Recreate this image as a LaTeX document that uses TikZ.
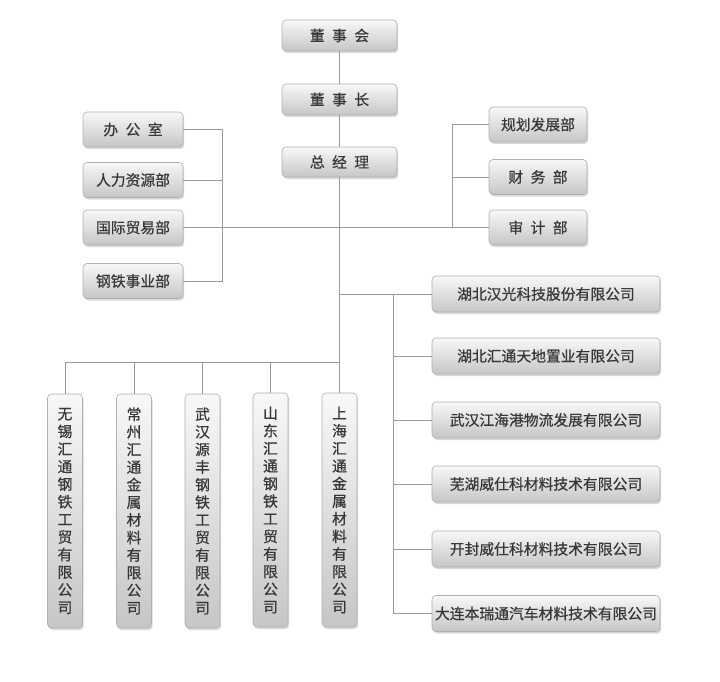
\documentclass[tikz,border=0pt]{standalone}
\usepackage{fontspec}
\newfontfamily\cjk{Noto Sans CJK SC}[FakeBold=0.6]
\usetikzlibrary{shadows}
\definecolor{txt}{HTML}{383838}
\definecolor{edge}{HTML}{9A9A9A}
\definecolor{bord}{HTML}{B0B0B0}
\definecolor{topc}{HTML}{F8F8F8}
\definecolor{botc}{HTML}{C6C6C6}
\tikzset{
  box/.style={draw=bord, line width=0.6pt, rounded corners=4pt,
    top color=topc, bottom color=botc, text=txt, inner sep=0pt,
    font=\cjk\fontsize{14.8}{17.6}\selectfont,
    drop shadow={opacity=0.3, shadow xshift=1.2pt, shadow yshift=-2pt}},
  vbox/.style={box, minimum width=35pt, minimum height=234pt, align=center},
  hbox/.style={box, minimum width=100pt, minimum height=35pt},
  cbox/.style={box, minimum width=228pt, minimum height=36pt},
  link/.style={draw=edge, line width=0.8pt}
}
\newcommand{\gapsp}{\hspace{0.5em}}
\begin{document}
\begin{tikzpicture}[x=1pt,y=-1pt]
\useasboundingbox (0,0) rectangle (720,682);
% top chain
\node[box, minimum width=115pt, minimum height=31pt] (dsh) at (339.5,35.5) {董\gapsp 事\gapsp 会};
\node[box, minimum width=115pt, minimum height=31pt] (dsz) at (339.5,99.5) {董\gapsp 事\gapsp 长};
\node[box, minimum width=115pt, minimum height=30pt] (zjl) at (339.5,162) {总\gapsp 经\gapsp 理};
% left departments
\node[hbox] (bgs) at (133,129.5) {办\gapsp 公\gapsp 室};
\node[hbox] (rlzy) at (133,180) {人力资源部};
\node[hbox] (gjmy) at (133,227.5) {国际贸易部};
\node[hbox] (gtsy) at (133,281) {钢铁事业部};
% right departments
\node[hbox, minimum width=98pt] (ghfz) at (538,124.5) {规划发展部};
\node[hbox, minimum width=98pt] (cwb) at (538,177) {财\gapsp 务\gapsp 部};
\node[hbox, minimum width=98pt] (sjb) at (538,227.5) {审\gapsp 计\gapsp 部};
% right companies
\node[cbox] (c1) at (546,294) {湖北汉光科技股份有限公司};
\node[cbox] (c2) at (546,356) {湖北汇通天地置业有限公司};
\node[cbox] (c3) at (546,420) {武汉江海港物流发展有限公司};
\node[cbox] (c4) at (546,484) {芜湖威仕科材料技术有限公司};
\node[cbox] (c5) at (546,549) {开封威仕科材料技术有限公司};
\node[cbox] (c6) at (546,613.5) {大连本瑞通汽车材料技术有限公司};
% bottom companies
\node[vbox] (b1) at (65,511) {无\\锡\\汇\\通\\钢\\铁\\工\\贸\\有\\限\\公\\司};
\node[vbox] (b2) at (134,511) {常\\州\\汇\\通\\金\\属\\材\\料\\有\\限\\公\\司};
\node[vbox] (b3) at (202.5,511) {武\\汉\\源\\丰\\钢\\铁\\工\\贸\\有\\限\\公\\司};
\node[vbox] (b4) at (270.5,510) {山\\东\\汇\\通\\钢\\铁\\工\\贸\\有\\限\\公\\司};
\node[vbox] (b5) at (339.5,510) {上\\海\\汇\\通\\金\\属\\材\\料\\有\\限\\公\\司};
% helper coordinates
\coordinate (lx) at (222,0);
\coordinate (rx) at (452,0);
\coordinate (cx) at (393,0);
\coordinate (hb) at (0,362.5);
% connectors
\draw[link] (dsh) -- (dsz);
\draw[link] (dsz) -- (zjl);
\draw[link] (zjl.south) -- (zjl.south |- hb);
\draw[link] (bgs.east) -| (lx |- gtsy.east) -- (gtsy.east);
\draw[link] (rlzy.east) -- (lx |- rlzy.east);
\draw[link] (gjmy.east) -- (sjb.west);
\draw[link] (ghfz.west) -| (rx |- sjb.west);
\draw[link] (cwb.west) -- (rx |- cwb.west);
\draw[link] (zjl.south |- c1.west) -- (c1.west);
\draw[link] (cx |- c1.west) |- (c6.west);
\draw[link] (cx |- c2.west) -- (c2.west);
\draw[link] (cx |- c3.west) -- (c3.west);
\draw[link] (cx |- c4.west) -- (c4.west);
\draw[link] (cx |- c5.west) -- (c5.west);
\draw[link] (b1.north |- hb) -- (zjl.south |- hb);
\draw[link] (b1.north |- hb) -- (b1.north);
\draw[link] (b2.north |- hb) -- (b2.north);
\draw[link] (b3.north |- hb) -- (b3.north);
\draw[link] (b4.north |- hb) -- (b4.north);
\draw[link] (b5.north |- hb) -- (b5.north);
\end{tikzpicture}
\end{document}
